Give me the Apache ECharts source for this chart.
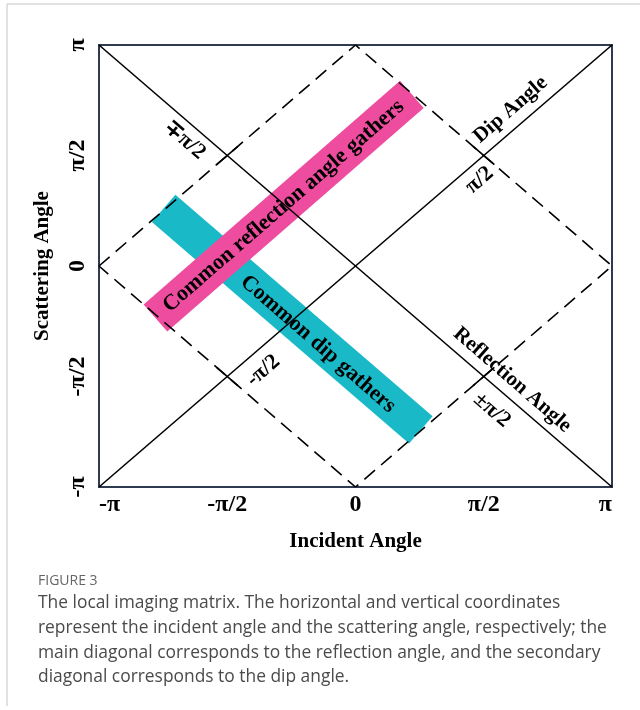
<!DOCTYPE html>
<html>
<head>
<meta charset="utf-8">
<script src="https://cdn.jsdelivr.net/npm/echarts@6/dist/echarts.min.js"></script>
<style>
  html, body { margin: 0; padding: 0; background: #fff; }
  #main { width: 640px; height: 710px; }
</style>
</head>
<body>
<div id="main"></div>
<script>
var chartDom = document.getElementById('main');
var myChart = echarts.init(chartDom);
var option;

const PI = Math.PI;

// tick labels, from -pi to pi in steps of pi/2
const xTickLabels = ['-π', '-π/2', '0', 'π/2', 'π'];
const yTickLabels = ['-π', '-π/2', '0', 'π/2', 'π'];

// main and secondary diagonals
const reflectionDiagonal = [[-PI, PI], [PI, -PI]];
const dipDiagonal = [[-PI, -PI], [PI, PI]];

// dashed diamond |x| + |y| = pi
const diamond = [[-PI, 0], [0, PI], [PI, 0], [0, -PI], [-PI, 0]];

// the two gather strips
const reflectionGather = [[-2.45, -0.74], [0.69, 2.44]];
const dipGather = [[-2.35, 0.82], [0.80, -2.33]];

// where the dashed diamond crosses the diagonals
const crossings = [[-PI / 2, PI / 2], [PI / 2, PI / 2], [PI / 2, -PI / 2], [-PI / 2, -PI / 2]];
const crossingDirs = [[1, 1], [1, -1], [1, 1], [1, -1]];

// text annotations
const noteTexts = ['Common reflection angle gathers', 'Common dip gathers', 'Dip Angle', 'Reflection Angle',
    'π/2', '∓π/2', '-π/2', '±π/2'];
const notePos = [[-0.88, 0.85], [-0.46, -1.11], [1.90, 2.22], [1.92, -1.62],
    [1.52, 1.22], [-2.09, 1.79], [-1.13, -1.49], [1.67, -2.05]];
const noteRotate = [41, -41, 41, -41, 41, -41, 41, -41];
const noteSize = [22, 22, 21, 21, 22, 22, 22, 22];

const captionLines = [
    'The local imaging matrix. The horizontal and vertical coordinates',
    'represent the incident angle and the scattering angle, respectively; the',
    'main diagonal corresponds to the reflection angle, and the secondary',
    'diagonal corresponds to the dip angle.'
];

const serif = "'Liberation Serif', 'Times New Roman', serif";

function tickName(labels) {
    return function (v) {
        return labels[Math.round(v / (PI / 2)) + 2];
    };
}

// short solid marks across the diagonals
const crossingSeries = crossings.map(function (c, i) {
    const d = 0.13;
    const dir = crossingDirs[i];
    return {
        type: 'line',
        silent: true,
        showSymbol: false,
        z: 4,
        lineStyle: { color: '#000', width: 1.6, type: 'solid' },
        data: [[c[0] - d * dir[0], c[1] - d * dir[1]], [c[0] + d * dir[0], c[1] + d * dir[1]]]
    };
});

const captionGraphics = captionLines.map(function (line, i) {
    return {
        type: 'text',
        left: 38,
        top: 595 + i * 24.6,
        style: { text: line, font: "17.4px 'Open Sans'", fill: '#4a4a4a' }
    };
});

option = {
    animation: false,
    grid: {
        left: 99,
        right: 28,
        top: 45,
        bottom: 223,
        show: true,
        borderColor: '#2d3a4f',
        borderWidth: 2,
        backgroundColor: '#fff'
    },
    xAxis: {
        type: 'value',
        min: -PI,
        max: PI,
        interval: PI / 2,
        name: 'Incident Angle',
        nameLocation: 'middle',
        nameGap: 44,
        nameTextStyle: { fontFamily: serif, fontWeight: 'bold', fontSize: 21, color: '#000' },
        axisLine: { show: false },
        axisTick: { show: false },
        splitLine: { show: false },
        axisLabel: {
            formatter: tickName(xTickLabels),
            fontFamily: serif,
            fontWeight: 'bold',
            fontSize: 24,
            color: '#000',
            margin: 6,
            alignMinLabel: 'left',
            alignMaxLabel: 'right'
        }
    },
    yAxis: {
        type: 'value',
        min: -PI,
        max: PI,
        interval: PI / 2,
        name: 'Scattering Angle',
        nameLocation: 'middle',
        nameGap: 46,
        nameTextStyle: { fontFamily: serif, fontWeight: 'bold', fontSize: 21, color: '#000' },
        axisLine: { show: false },
        axisTick: { show: false },
        splitLine: { show: false },
        axisLabel: {
            formatter: tickName(yTickLabels),
            fontFamily: serif,
            fontWeight: 'bold',
            fontSize: 24,
            color: '#000',
            rotate: 90,
            margin: 9
        }
    },
    series: [
        {
            type: 'line',
            silent: true,
            showSymbol: false,
            z: 1,
            lineStyle: { color: '#19b9c8', width: 36, cap: 'butt' },
            data: dipGather
        },
        {
            type: 'line',
            silent: true,
            showSymbol: false,
            z: 2,
            lineStyle: { color: '#ee4d9f', width: 36, cap: 'butt' },
            data: reflectionGather
        },
        {
            type: 'line',
            silent: true,
            showSymbol: false,
            z: 3,
            lineStyle: { color: '#000', width: 1.6 },
            data: reflectionDiagonal
        },
        {
            type: 'line',
            silent: true,
            showSymbol: false,
            z: 3,
            lineStyle: { color: '#000', width: 1.6 },
            data: dipDiagonal
        },
        {
            type: 'line',
            silent: true,
            showSymbol: false,
            z: 3,
            lineStyle: { color: '#000', width: 1.6, type: [14, 8] },
            data: diamond
        }
    ].concat(crossingSeries).concat([
        {
            type: 'scatter',
            silent: true,
            z: 5,
            symbolSize: 1,
            itemStyle: { color: 'transparent', opacity: 1 },
            data: noteTexts.map(function (t, i) {
                return {
                    name: t,
                    value: notePos[i],
                    label: { rotate: noteRotate[i], fontSize: noteSize[i] }
                };
            }),
            label: {
                show: true,
                position: 'inside',
                formatter: function (p) { return p.name; },
                fontFamily: serif,
                fontWeight: 'bold',
                color: '#000',
                opacity: 1,
                textBorderWidth: 0
            }
        }
    ]),
    graphic: {
        elements: [
            { type: 'line', shape: { x1: 7, y1: 4, x2: 640, y2: 4 }, style: { stroke: '#c4c4c4', lineWidth: 1 } },
            { type: 'line', shape: { x1: 7, y1: 4, x2: 7, y2: 706 }, style: { stroke: '#c4c4c4', lineWidth: 1 } },
            {
                type: 'text',
                left: 38,
                top: 574,
                style: { text: 'FIGURE 3', font: "14px 'Open Sans'", fill: '#666' }
            }
        ].concat(captionGraphics)
    }
};

myChart.setOption(option);
</script>
</body>
</html>
